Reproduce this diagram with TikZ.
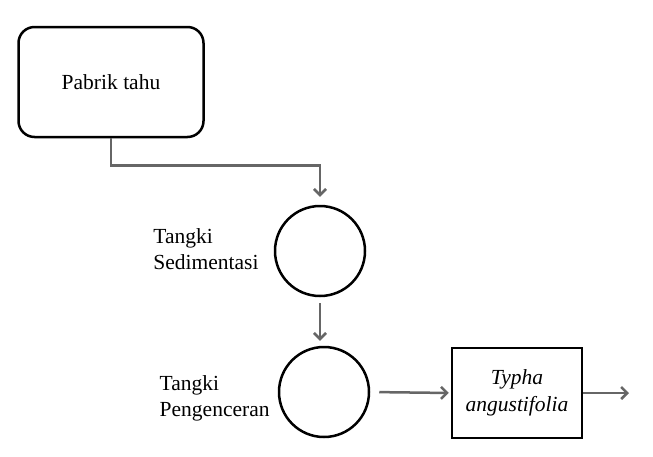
\documentclass[tikz,border=0pt]{standalone}
\usepackage{fontspec}
\setmainfont{Liberation Serif}
\usetikzlibrary{arrows.meta,positioning}

\begin{document}
\begin{tikzpicture}[x=1pt,y=-1pt,
                font=\fontsize{21.5}{26}\selectfont,
                flow/.style={draw=black!60,line width=2.5pt,-{Straight Barb[length=6pt,width=12pt]}},
                tank/.style={circle,draw,line width=2.5pt,minimum size=90pt,inner sep=0pt},
                unit/.style={draw,line width=2.5pt,minimum width=130pt,minimum height=90pt,align=center,font=\fontsize{21.5}{27}\selectfont\itshape},
                tag/.style={align=left,inner sep=1pt}]
                \useasboundingbox (0,0) rectangle (653,456);
                \node[draw,rounded corners=16pt,line width=2.5pt,minimum width=185pt,minimum height=110pt] (pabrik) at (111,82) {Pabrik tahu};
                \node[tank] (sed) at (320,251) {};
                \node[tank] (peng) at (324,392) {};
                \node[unit] (typha) at (517,393) {Typha\\angustifolia};
                \coordinate (out) at (629,393);
                \node[tag,left=14pt of sed,yshift=2pt] {Tangki\\Sedimentasi};
                \node[tag,left=7pt of peng,yshift=-6pt] {Tangki\\Pengenceran};
                \draw[flow,shorten >=8pt] (pabrik.south) -- ++(0,27) -| (sed.north);
                \draw[flow,shorten <=6pt,shorten >=5pt] (sed.south) -- (sed.south |- peng.north);
                \draw[flow,shorten <=9pt,shorten >=2pt] (peng.east) -- (typha.west);
                \draw[flow] (typha.east) -- (out);
            \end{tikzpicture}
\end{document}
